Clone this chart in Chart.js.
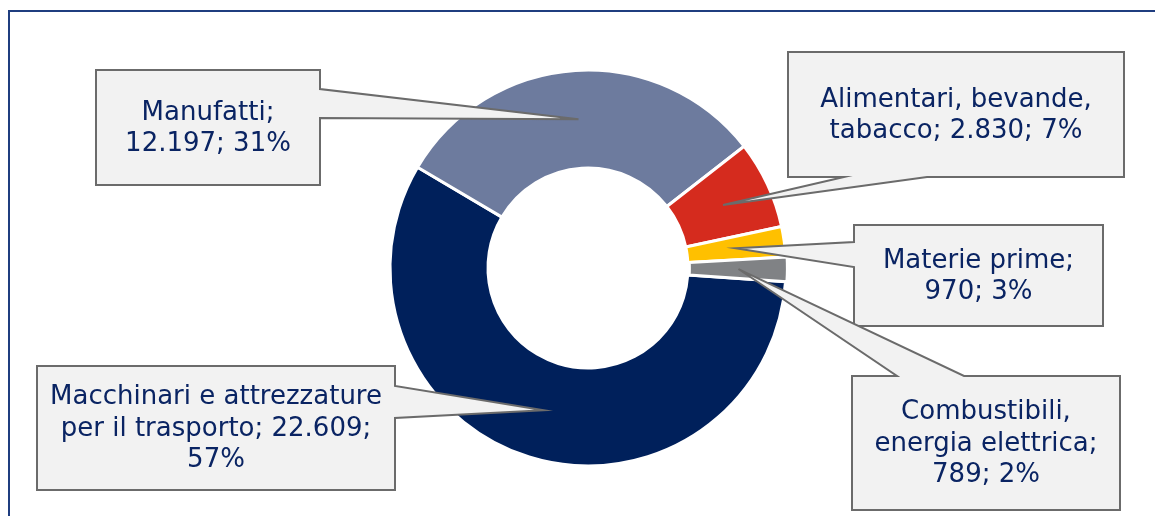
<!DOCTYPE html>
<html lang="it">
<head>
  <meta charset="UTF-8">
  <title>Esportazioni per gruppi di prodotti</title>
  <script src="https://cdn.jsdelivr.net/npm/chart.js"></script>
  <style>
    body {
      margin: 0;
      background: #fff;
    }
    #wrap {
      position: relative;
      width: 1155px;
      height: 516px;
    }
    /* cornice blu in alto e a sinistra */
    #frame {
      position: absolute;
      left: 8px;
      top: 10px;
      right: 0;
      bottom: 0;
      border-top: 2px solid #1f3d7f;
      border-left: 2px solid #1f3d7f;
      pointer-events: none;
    }
  </style>
</head>
<body>
  <div id="wrap">
    <canvas id="myChart" width="1155" height="516"></canvas>
    <div id="frame"></div>
  </div>

  <script>
    // Dati
    var categories = [
      'Macchinari e attrezzature per il trasporto',
      'Manufatti',
      'Alimentari, bevande, tabacco',
      'Materie prime',
      'Combustibili, energia elettrica'
    ];
    var values = [22609, 12197, 2830, 970, 789];
    var percents = [57, 31, 7, 3, 2];

    var colors = ['#00205b', '#6d7b9e', '#d52b1e', '#ffc000', '#808285'];

    // Posizione dei riquadri (box) e della base della punta
    var callouts = [
      { x: 37, y: 366, w: 358, h: 124, side: 'right', a: 386, b: 418 },
      { x: 96, y: 70, w: 224, h: 115, side: 'right', a: 89, b: 118 },
      { x: 788, y: 52, w: 336, h: 125, side: 'bottom', a: 844, b: 927 },
      { x: 854, y: 225, w: 249, h: 101, side: 'left', a: 242, b: 267 },
      { x: 852, y: 376, w: 268, h: 134, side: 'top', a: 897, b: 964 }
    ];

    function formatNum(n) {
      return String(n).replace(/\B(?=(\d{3})+(?!\d))/g, '.');
    }

    function wrapText(ctx, text, maxWidth) {
      var words = text.split(' ');
      var lines = [];
      var line = '';
      for (var i = 0; i < words.length; i++) {
        var test = line ? line + ' ' + words[i] : words[i];
        if (line && ctx.measureText(test).width > maxWidth) {
          lines.push(line);
          line = words[i];
        } else {
          line = test;
        }
      }
      if (line) lines.push(line);
      return lines;
    }

    // Plugin per le etichette a fumetto
    var calloutPlugin = {
      id: 'callouts',
      afterDraw: function(chart) {
        var ctx = chart.ctx;
        var arcs = chart.getDatasetMeta(0).data;
        ctx.save();
        for (var i = 0; i < arcs.length; i++) {
          var c = callouts[i];
          var tip = arcs[i].tooltipPosition();
          var x0 = c.x, y0 = c.y, x1 = c.x + c.w, y1 = c.y + c.h;

          ctx.beginPath();
          ctx.moveTo(x0, y0);
          if (c.side === 'top') {
            ctx.lineTo(c.a, y0);
            ctx.lineTo(tip.x, tip.y);
            ctx.lineTo(c.b, y0);
          }
          ctx.lineTo(x1, y0);
          if (c.side === 'right') {
            ctx.lineTo(x1, c.a);
            ctx.lineTo(tip.x, tip.y);
            ctx.lineTo(x1, c.b);
          }
          ctx.lineTo(x1, y1);
          if (c.side === 'bottom') {
            ctx.lineTo(c.b, y1);
            ctx.lineTo(tip.x, tip.y);
            ctx.lineTo(c.a, y1);
          }
          ctx.lineTo(x0, y1);
          if (c.side === 'left') {
            ctx.lineTo(x0, c.b);
            ctx.lineTo(tip.x, tip.y);
            ctx.lineTo(x0, c.a);
          }
          ctx.closePath();
          ctx.fillStyle = '#f2f2f2';
          ctx.fill();
          ctx.lineWidth = 2;
          ctx.lineJoin = 'miter';
          ctx.strokeStyle = '#6b6b6b';
          ctx.stroke();

          // testo
          ctx.font = '26px "DejaVu Sans", Verdana, sans-serif';
          ctx.fillStyle = '#0a2463';
          ctx.textAlign = 'center';
          ctx.textBaseline = 'middle';
          var label = categories[i] + '; ' + formatNum(values[i]) + '; ' + percents[i] + '%';
          var lines = wrapText(ctx, label, c.w - 20);
          var lh = 31.5;
          var cy = c.y + c.h / 2 - (lines.length - 1) * lh / 2 + 1;
          for (var j = 0; j < lines.length; j++) {
            ctx.fillText(lines[j], c.x + c.w / 2, cy + j * lh);
          }
        }
        ctx.restore();
      }
    };

    var ctx = document.getElementById('myChart').getContext('2d');
    var myChart = new Chart(ctx, {
      type: 'doughnut',
      data: {
        labels: categories,
        datasets: [{
          data: values,
          backgroundColor: colors,
          borderColor: '#ffffff',
          borderWidth: 3,
          offset: [0, 0, 0, 0, 3]
        }]
      },
      options: {
        responsive: false,
        animation: false,
        rotation: 94,
        cutout: '50.5%',
        radius: 198,
        layout: {
          padding: { left: 21, right: 0, top: 30, bottom: 10 }
        },
        plugins: {
          legend: { display: false },
          tooltip: { enabled: false }
        }
      },
      plugins: [calloutPlugin]
    });
  </script>
</body>
</html>
